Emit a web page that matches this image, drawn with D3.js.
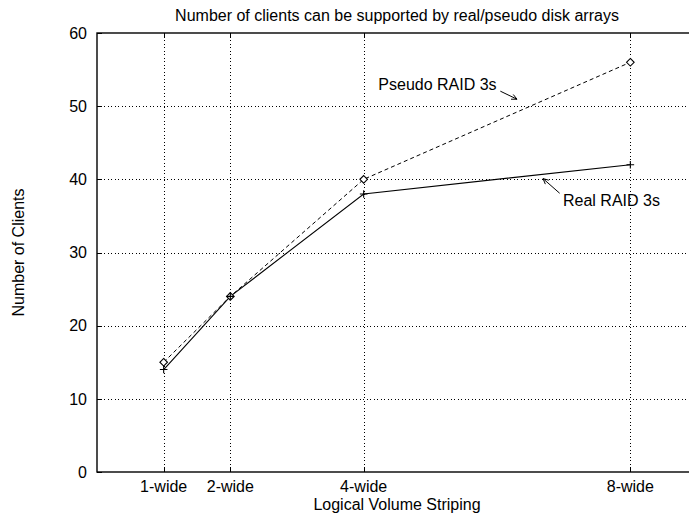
<!DOCTYPE html>
<html>
<head>
<meta charset="utf-8">
<script src="https://cdn.jsdelivr.net/npm/d3@7"></script>
<style>
  html, body { margin: 0; padding: 0; background: #fff; }
  svg { display: block; font-family: "Liberation Sans", Arial, Helvetica, sans-serif; }
</style>
</head>
<body>
<svg id="chart" width="689" height="516"></svg>
<script>
// Striping widths and their labels
const stripeWidths = [1, 2, 4, 8];
const stripeLabels = ["1-wide", "2-wide", "4-wide", "8-wide"];

// Number of clients supported
const pseudoRaid = [15, 24, 40, 56];
const realRaid = [14, 24, 38, 42];

const yTicks = [0, 10, 20, 30, 40, 50, 60];

// Curve annotations: text anchor and arrow (tail -> head) in data units
const annotations = [
  { text: "Pseudo RAID 3s", at: [4.22, 52.2], tail: [6.05, 52.05], head: [6.3, 50.95] },
  { text: "Real RAID 3s", at: [6.99, 36.3], tail: [6.94, 38.1], head: [6.69, 40.1] }
];

(function () {
  const svg = d3.select("#chart");
  const plotLeft = 97, plotRight = 697, plotTop = 33, plotBottom = 472;

  const x = d3.scaleLinear().domain([0, 9]).range([plotLeft, plotRight]);
  const y = d3.scaleLinear().domain([0, 60]).range([plotBottom, plotTop]);

  // Grid (dotted)
  const grid = svg.append("g").attr("stroke", "#000").attr("stroke-width", 1)
    .attr("stroke-dasharray", "1,2.5").attr("shape-rendering", "crispEdges");
  grid.selectAll("line.h").data(yTicks.filter(d => d > 0 && d < 60)).join("line")
    .attr("class", "h")
    .attr("x1", plotLeft).attr("x2", plotRight)
    .attr("y1", d => Math.round(y(d)) + 0.5).attr("y2", d => Math.round(y(d)) + 0.5);
  grid.selectAll("line.v").data(stripeWidths).join("line")
    .attr("class", "v")
    .attr("y1", plotTop).attr("y2", plotBottom)
    .attr("x1", d => Math.round(x(d)) + 0.5).attr("x2", d => Math.round(x(d)) + 0.5);

  // Tick marks on all four borders
  const tickLen = 5;
  const ticks = svg.append("g").attr("stroke", "#000").attr("stroke-width", 1).attr("shape-rendering", "crispEdges");
  yTicks.forEach(v => {
    const yy = Math.round(y(v)) + 0.5;
    ticks.append("line").attr("x1", plotLeft).attr("x2", plotLeft + tickLen).attr("y1", yy).attr("y2", yy);
    ticks.append("line").attr("x1", plotRight).attr("x2", plotRight - tickLen).attr("y1", yy).attr("y2", yy);
  });
  stripeWidths.forEach(v => {
    const xx = Math.round(x(v)) + 0.5;
    ticks.append("line").attr("x1", xx).attr("x2", xx).attr("y1", plotBottom).attr("y2", plotBottom - tickLen);
    ticks.append("line").attr("x1", xx).attr("x2", xx).attr("y1", plotTop).attr("y2", plotTop + tickLen);
  });

  // Frame
  svg.append("rect")
    .attr("x", plotLeft).attr("y", plotTop).attr("width", plotRight - plotLeft).attr("height", plotBottom - plotTop)
    .attr("fill", "none").attr("stroke", "#000").attr("stroke-width", 1.4);

  // Tick labels
  svg.append("g").selectAll("text").data(yTicks).join("text")
    .attr("x", plotLeft - 10).attr("y", d => y(d)).attr("dy", "0.36em")
    .attr("text-anchor", "end").attr("font-size", 16).text(d => d);
  svg.append("g").selectAll("text").data(stripeWidths).join("text")
    .attr("x", d => x(d)).attr("y", 491.5)
    .attr("text-anchor", "middle").attr("font-size", 16).text((d, i) => stripeLabels[i]);

  // Titles
  svg.append("text").attr("x", (plotLeft + plotRight) / 2).attr("y", 21)
    .attr("text-anchor", "middle").attr("font-size", 16)
    .text("Number of clients can be supported by real/pseudo disk arrays");
  svg.append("text").attr("x", (plotLeft + plotRight) / 2).attr("y", 510)
    .attr("text-anchor", "middle").attr("font-size", 16).text("Logical Volume Striping");
  svg.append("text").attr("transform", `translate(24,${(plotTop + plotBottom) / 2}) rotate(-90)`)
    .attr("text-anchor", "middle").attr("font-size", 16).text("Number of Clients");

  // Series
  const line = d3.line().x(d => x(d[0])).y(d => y(d[1]));
  const pseudoPts = stripeWidths.map((w, i) => [w, pseudoRaid[i]]);
  const realPts = stripeWidths.map((w, i) => [w, realRaid[i]]);

  svg.append("path").datum(pseudoPts).attr("d", line)
    .attr("fill", "none").attr("stroke", "#000").attr("stroke-width", 1)
    .attr("stroke-dasharray", "4,3");
  svg.append("path").datum(realPts).attr("d", line)
    .attr("fill", "none").attr("stroke", "#000").attr("stroke-width", 1.1);

  // Diamond markers
  svg.append("g").selectAll("path").data(pseudoPts).join("path")
    .attr("d", d => {
      const cx = x(d[0]), cy = y(d[1]), r = 3.8;
      return `M${cx},${cy - r}L${cx + r},${cy}L${cx},${cy + r}L${cx - r},${cy}Z`;
    })
    .attr("fill", "#fff").attr("stroke", "#000").attr("stroke-width", 1.1);

  // Plus markers
  svg.append("g").selectAll("path").data(realPts).join("path")
    .attr("d", d => {
      const cx = x(d[0]), cy = y(d[1]), r = 3.8;
      return `M${cx - r},${cy}H${cx + r}M${cx},${cy - r}V${cy + r}`;
    })
    .attr("fill", "none").attr("stroke", "#000").attr("stroke-width", 1.1);

  // Annotations with arrows
  annotations.forEach(a => {
    svg.append("text").attr("x", x(a.at[0])).attr("y", y(a.at[1]))
      .attr("font-size", 16).text(a.text);
    const x1 = x(a.tail[0]), y1 = y(a.tail[1]), x2 = x(a.head[0]), y2 = y(a.head[1]);
    const ang = Math.atan2(y2 - y1, x2 - x1), L = 6, spread = 0.45;
    svg.append("path")
      .attr("d", `M${x1},${y1}L${x2},${y2}` +
        `M${x2 - L * Math.cos(ang - spread)},${y2 - L * Math.sin(ang - spread)}L${x2},${y2}` +
        `L${x2 - L * Math.cos(ang + spread)},${y2 - L * Math.sin(ang + spread)}`)
      .attr("fill", "none").attr("stroke", "#000").attr("stroke-width", 1);
  });
})();
</script>
</body>
</html>
